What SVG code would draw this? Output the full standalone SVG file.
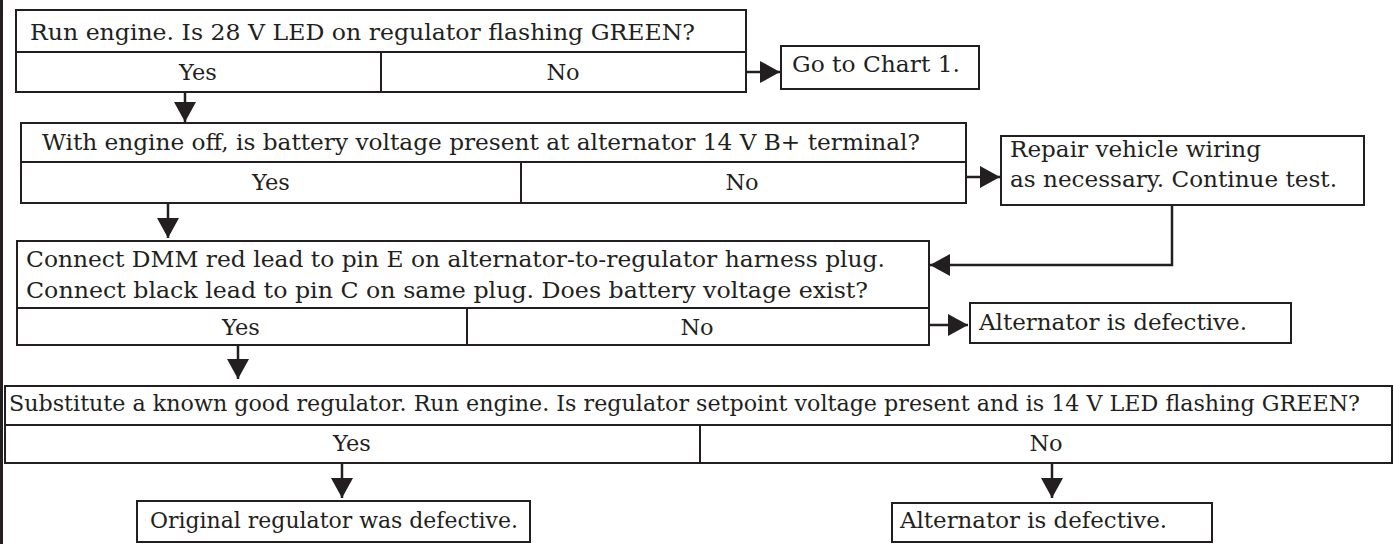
<svg xmlns="http://www.w3.org/2000/svg" width="1394" height="544" viewBox="0 0 1394 544">
<style>
.box{fill:#fff;stroke:#231f20;stroke-width:2}
.div{stroke:#231f20;stroke-width:2;fill:none}
.t{font-family:"DejaVu Serif","Liberation Serif",serif;font-size:22.5px;fill:#231f20}
.m{text-anchor:middle}
.c{stroke:#231f20;stroke-width:2.5;fill:none}
</style>
<defs>
<marker id="ah" markerUnits="userSpaceOnUse" markerWidth="22" markerHeight="22" viewBox="0 0 20 22" refX="20" refY="11" orient="auto">
<path d="M0,0 L20,11 L0,22 Z" fill="#231f20"/>
</marker>
</defs>
<rect x="0" y="0" width="1394" height="544" fill="#fff"/>
<line x1="1.5" y1="0" x2="1.5" y2="544" stroke="#231f20" stroke-width="3"/>

<g id="q1">
<rect class="box" x="16" y="10" width="730" height="82"/>
<line class="div" x1="16" y1="52" x2="746" y2="52"/>
<line class="div" x1="381" y1="52" x2="381" y2="92"/>
<text class="t" x="30" y="40" textLength="665" lengthAdjust="spacingAndGlyphs">Run engine. Is 28 V LED on regulator flashing GREEN?</text>
<text class="t m" x="198" y="80">Yes</text>
<text class="t m" x="563" y="80">No</text>
</g>

<g id="chart1">
<rect class="box" x="781" y="46" width="198" height="43"/>
<text class="t" x="792" y="72" textLength="168" lengthAdjust="spacingAndGlyphs">Go to Chart 1.</text>
</g>

<g id="q2">
<rect class="box" x="21" y="123" width="945" height="80"/>
<line class="div" x1="21" y1="162" x2="966" y2="162"/>
<line class="div" x1="521" y1="162" x2="521" y2="203"/>
<text class="t" x="42" y="150" textLength="878" lengthAdjust="spacingAndGlyphs">With engine off, is battery voltage present at alternator 14 V B+ terminal?</text>
<text class="t m" x="271" y="190">Yes</text>
<text class="t m" x="742" y="190">No</text>
</g>

<g id="repair">
<rect class="box" x="1001" y="136" width="363" height="69"/>
<text class="t" x="1010" y="157" textLength="251" lengthAdjust="spacingAndGlyphs">Repair vehicle wiring</text>
<text class="t" x="1010" y="187" textLength="327" lengthAdjust="spacingAndGlyphs">as necessary. Continue test.</text>
</g>

<g id="q3">
<rect class="box" x="17" y="241" width="912" height="104"/>
<line class="div" x1="17" y1="308" x2="929" y2="308"/>
<line class="div" x1="467" y1="308" x2="467" y2="345"/>
<text class="t" x="26" y="267" textLength="859" lengthAdjust="spacingAndGlyphs">Connect DMM red lead to pin E on alternator-to-regulator harness plug.</text>
<text class="t" x="26" y="298" textLength="842" lengthAdjust="spacingAndGlyphs">Connect black lead to pin C on same plug. Does battery voltage exist?</text>
<text class="t m" x="241" y="335">Yes</text>
<text class="t m" x="697" y="335">No</text>
</g>

<g id="alt1">
<rect class="box" x="970" y="303" width="321" height="40"/>
<text class="t" x="979" y="330" textLength="268" lengthAdjust="spacingAndGlyphs">Alternator is defective.</text>
</g>

<g id="q4">
<rect class="box" x="5" y="386" width="1387" height="77"/>
<line class="div" x1="5" y1="425" x2="1392" y2="425"/>
<line class="div" x1="700" y1="425" x2="700" y2="463"/>
<text class="t" x="9" y="411" textLength="1351" lengthAdjust="spacingAndGlyphs">Substitute a known good regulator. Run engine. Is regulator setpoint voltage present and is 14 V LED flashing GREEN?</text>
<text class="t m" x="352" y="451">Yes</text>
<text class="t m" x="1046" y="451">No</text>
</g>

<g id="orig">
<rect class="box" x="137" y="501" width="393" height="41"/>
<text class="t" x="150" y="528" textLength="368" lengthAdjust="spacingAndGlyphs">Original regulator was defective.</text>
</g>

<g id="alt2">
<rect class="box" x="892" y="503" width="320" height="39"/>
<text class="t" x="900" y="528" textLength="267" lengthAdjust="spacingAndGlyphs">Alternator is defective.</text>
</g>

<g id="connectors">
<path class="c" d="M185,92 V122" marker-end="url(#ah)"/>
<path class="c" d="M746,72 H780" marker-end="url(#ah)"/>
<path class="c" d="M168,203 V238" marker-end="url(#ah)"/>
<path class="c" d="M966,177 H1000" marker-end="url(#ah)"/>
<path class="c" d="M1172,205 V265 H930" marker-end="url(#ah)"/>
<path class="c" d="M238,345 V379" marker-end="url(#ah)"/>
<path class="c" d="M929,325 H968" marker-end="url(#ah)"/>
<path class="c" d="M342,463 V498" marker-end="url(#ah)"/>
<path class="c" d="M1052,463 V498" marker-end="url(#ah)"/>
</g>
</svg>
